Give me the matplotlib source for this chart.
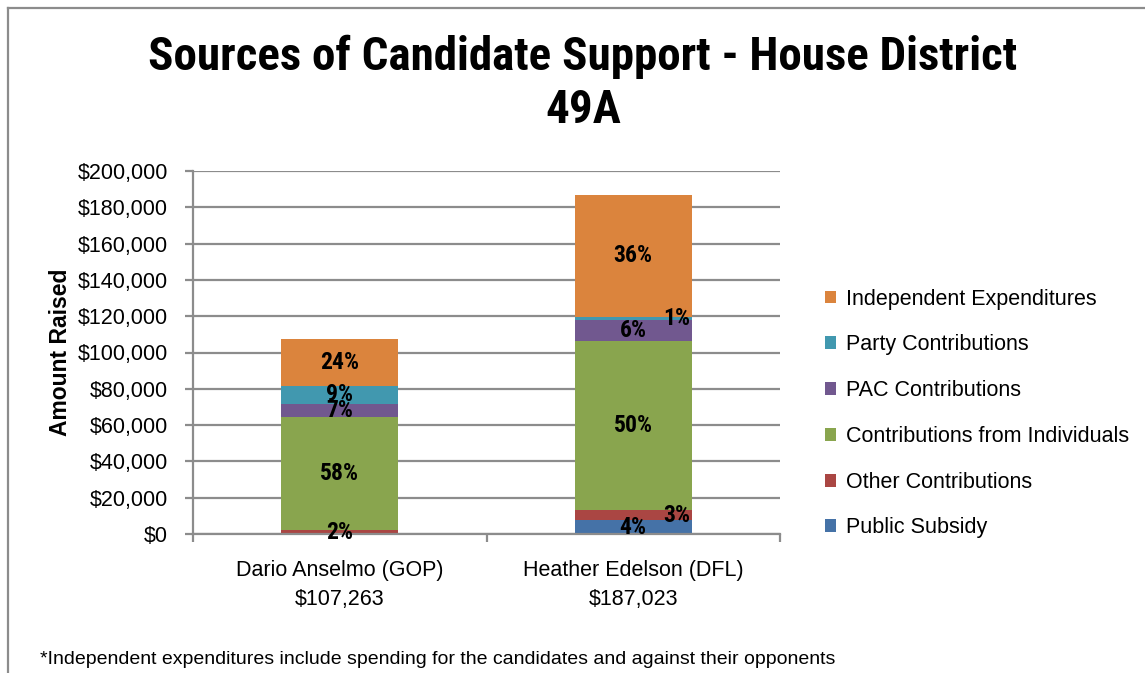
import os
import matplotlib
matplotlib.use("Agg")
import matplotlib.pyplot as plt
from matplotlib import font_manager as fm
from matplotlib.patches import Patch
from matplotlib.lines import Line2D
from matplotlib.ticker import FuncFormatter

# ---- data ----------------------------------------------------------------
candidates = ["Dario Anselmo (GOP)", "Heather Edelson (DFL)"]
totals = [107263, 187023]

# funding sources, stacked bottom to top
sources = [
    "Public Subsidy",
    "Other Contributions",
    "Contributions from Individuals",
    "PAC Contributions",
    "Party Contributions",
    "Independent Expenditures",
]
public_subsidy = [0, 7481]
other_contributions = [2145, 5611]
individual_contributions = [62213, 93512]
pac_contributions = [7508, 11221]
party_contributions = [9654, 1870]
independent_expenditures = [25743, 67328]

series = [
    public_subsidy,
    other_contributions,
    individual_contributions,
    pac_contributions,
    party_contributions,
    independent_expenditures,
]

colors = ["#4572A7", "#AA4643", "#89A54E", "#71588F", "#4198AF", "#DB843D"]

ytick_values = list(range(0, 200001, 20000))
title_lines = ["Sources of Candidate Support - House District", "49A"]
footnote = ("*Independent expenditures include spending for the candidates "
            "and against their opponents")

# ---- fonts ---------------------------------------------------------------
REG = ["Liberation Sans", "DejaVu Sans"]
plt.rcParams["font.family"] = REG


def _weight(e):
    w = e.weight
    return w if isinstance(w, int) else fm.weight_dict.get(w, 400)


def condensed_bold():
    """Best available narrow/condensed bold face, else regular bold."""
    prefs = ["liberationsansnarrow", "arialn", "robotocondensed",
             "notosans-condensed", "notosanscondensed", "opensans_condensed",
             "opensanscondensed", "opensans-condensed", "condensed", "narrow"]
    found = []
    for e in fm.fontManager.ttflist:
        base = os.path.basename(e.fname).lower().replace(" ", "")
        cond = ("condensed" in str(e.stretch) or "narrow" in base
                or "condensed" in base)
        if not cond or e.style != "normal" or _weight(e) < 600:
            continue
        if "semicondensed" in base or "extracondensed" in base:
            continue
        rank = next((i for i, p in enumerate(prefs) if p in base), len(prefs))
        if "dejavu" in base:
            rank = len(prefs) + 1
        found.append((rank, abs(_weight(e) - 700), e.fname))
    if found:
        found.sort()
        return fm.FontProperties(fname=found[0][2])
    return fm.FontProperties(family=REG, weight="bold")


BOLD_N = condensed_bold()

W, H = 1145, 673
fig = plt.figure(figsize=(W / 100, H / 100), dpi=100)
fig.patch.set_facecolor("white")
renderer = fig.canvas.get_renderer()


def px(x, y):
    """Pixel position (from top-left) to figure fraction."""
    return x / W, 1 - y / H


def fitted(fp, sample, target_w, base=20.0):
    """Copy of fp sized so that `sample` is target_w pixels wide."""
    p = fp.copy()
    p.set_size(base)
    t = fig.text(0, 0, sample, fontproperties=p)
    w = t.get_window_extent(renderer).width
    t.remove()
    p.set_size(base * target_w / w)
    return p


title_fp = fitted(BOLD_N, title_lines[0], 867)
label_fp = BOLD_N.copy()
label_fp.set_size(17)

# outer frame (top and left edges)
fig.add_artist(Line2D([8 / W, 1.0], [1 - 8 / H, 1 - 8 / H],
                      transform=fig.transFigure, color="#8c8c8c", lw=1.6))
fig.add_artist(Line2D([8 / W, 8 / W], [0.0, 1 - 8 / H],
                      transform=fig.transFigure, color="#8c8c8c", lw=1.6))

ax_l, ax_r, ax_t, ax_b = 193, 780, 171, 534
ax = fig.add_axes([ax_l / W, 1 - ax_b / H, (ax_r - ax_l) / W, (ax_b - ax_t) / H])

grid_col = "#8c8c8c"
bar_w = 0.4
xs = list(range(len(candidates)))

# labels that sit against the right edge of the bar instead of the centre
right_aligned = {(1, "Other Contributions"), (1, "Party Contributions")}

bottoms = [0.0] * len(candidates)
for name, vals, col in zip(sources, series, colors):
    ax.bar(xs, vals, bar_w, bottom=bottoms, color=col, zorder=3, label=name)
    for i, v in enumerate(vals):
        if v > 0:
            pct = round(100 * v / totals[i])
            yc = bottoms[i] + v / 2
            if (i, name) in right_aligned:
                ax.text(xs[i] + bar_w / 2 - 0.005, yc, f"{pct}%", ha="right",
                        va="center", fontproperties=label_fp, zorder=5)
            else:
                ax.text(xs[i], yc, f"{pct}%", ha="center", va="center",
                        fontproperties=label_fp, zorder=5)
    bottoms = [b + v for b, v in zip(bottoms, vals)]

ax.set_xlim(-0.5, 1.5)
ax.set_ylim(0, 200000)
ax.set_yticks(ytick_values)
ax.yaxis.set_major_formatter(FuncFormatter(lambda v, p: f"${int(v):,}"))
ax.grid(axis="y", color=grid_col, lw=1.6, zorder=0)

ax.set_xticks(xs)
ax.set_xticklabels([f"{c}\n${t:,}" for c, t in zip(candidates, totals)],
                   fontsize=15.5, linespacing=1.45)
ax.set_xticks([-0.5, 0.5, 1.5], minor=True)
ax.tick_params(axis="x", which="major", length=0, pad=19)
ax.tick_params(axis="x", which="minor", length=6, width=1.6, color=grid_col,
               direction="out")
ax.tick_params(axis="y", length=6, width=1.6, color=grid_col, labelsize=15.5,
               pad=12)

for s in ("top", "right"):
    ax.spines[s].set_visible(False)
for s in ("left", "bottom"):
    ax.spines[s].set_color(grid_col)
    ax.spines[s].set_linewidth(1.6)
    ax.spines[s].set_zorder(4)

ax.set_ylabel("Amount Raised", fontsize=16.5, fontweight="bold", labelpad=4)

# title, two centred lines
fig.text(*px(583, 57), title_lines[0], ha="center", va="center",
         fontproperties=title_fp)
fig.text(*px(583, 110), title_lines[1], ha="center", va="center",
         fontproperties=title_fp)

# legend, top entry first
handles = [Patch(facecolor=c, edgecolor="none", label=s)
           for s, c in zip(sources, colors)][::-1]
fig.legend(handles=handles, loc="upper left", bbox_to_anchor=px(816, 280),
           frameon=False, fontsize=15.5, handlelength=0.55, handleheight=0.55,
           handletextpad=0.45, labelspacing=1.15, borderaxespad=0)

fig.text(*px(40, 660), footnote, ha="left", va="center", fontsize=14.0)

fig.savefig("out.png", dpi=100)
